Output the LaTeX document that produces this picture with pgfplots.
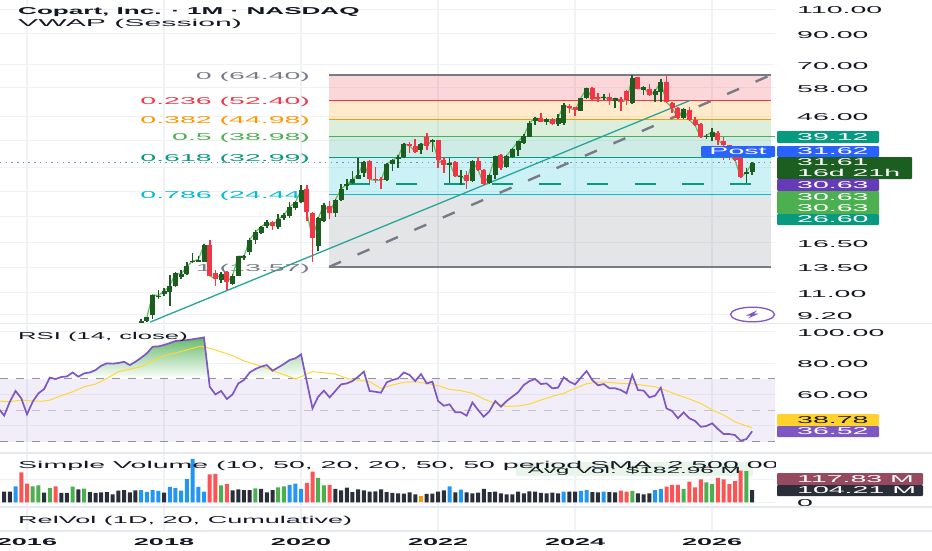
\documentclass[border=0pt]{standalone}
\usepackage{graphicx}
\usepackage{fontspec}
\usepackage{pgfplots}
\usepackage{pgfplotstable}
\pgfplotsset{compat=1.18}
\setmainfont[FakeStretch=2.85]{Liberation Sans}
\newcommand\xs[2]{\scalebox{#1}[1]{#2}}
\definecolor{cgreen}{HTML}{1B5E20}
\definecolor{cred}{HTML}{F23645}
\definecolor{vwap}{HTML}{66BB6A}
\definecolor{teal}{HTML}{089981}
\definecolor{trend}{HTML}{26A69A}
\definecolor{fgray}{HTML}{787B86}
\definecolor{forange}{HTML}{FF9800}
\definecolor{fgreen}{HTML}{4CAF50}
\definecolor{fcyan}{HTML}{00BCD4}
\definecolor{rsip}{HTML}{7E57C2}
\definecolor{rsiy}{HTML}{FDD835}
\definecolor{vdark}{HTML}{2A2E39}
\definecolor{vblue}{HTML}{2196F3}
\definecolor{vred}{HTML}{FF5252}
\definecolor{tdark}{HTML}{131722}
\definecolor{gridc}{HTML}{F0F2F6}
\definecolor{sepc}{HTML}{E6E8EF}
\definecolor{dotc}{HTML}{6F93B8}
\definecolor{postb}{HTML}{2962FF}
\definecolor{purpb}{HTML}{673AB7}
\definecolor{yellb}{HTML}{FFD22E}
\definecolor{maroon}{HTML}{954A5F}
\pgfplotstableread{
m o h l c
20 8.60 8.92 8.60 8.75
21 8.73 9.07 8.71 9.05
22 9.17 10.82 8.92 10.82
23 10.64 11.23 10.50 10.76
24 10.90 11.40 10.76 11.13
25 11.07 12.70 9.90 11.66
26 11.60 12.97 11.54 12.87
27 12.47 13.23 12.30 12.80
28 12.80 14.13 12.70 13.62
29 14.07 15.14 14.00 14.23
30 14.13 14.88 14.07 14.40
31 14.07 16.30 14.07 16.20
34 12.23 13.03 11.90 12.80
36 11.78 12.80 11.72 12.63
37 12.63 14.88 12.57 14.80
38 14.60 15.00 14.40 14.80
39 15.32 17.10 15.00 16.90
40 16.86 18.30 16.30 18.02
41 17.80 18.92 17.70 18.76
42 18.92 19.90 18.67 19.47
44 18.76 20.80 18.50 20.00
45 20.10 21.08 19.90 20.64
46 20.53 22.96 20.10 22.09
47 21.91 23.18 21.60 22.90
48 22.96 26.30 22.84 25.26
51 16.10 20.27 15.46 20.10
52 19.73 22.84 19.57 22.50
54 21.08 23.50 20.27 23.36
55 23.36 26.50 23.16 25.56
56 26.13 27.60 25.40 26.50
57 26.72 29.50 26.50 27.60
58 27.75 32.84 27.75 28.70
59 29.10 31.96 28.20 31.80
63 27.38 31.54 27.23 31.28
64 31.36 32.58 29.50 32.22
65 32.58 33.70 30.30 33.10
66 33.10 37.10 32.84 36.90
69 34.90 37.10 34.00 36.90
71 37.30 38.30 34.60 37.90
74 31.10 32.84 26.72 31.54
76 28.20 29.90 26.30 28.47
78 27.23 32.20 27.10 31.96
81 26.87 28.87 26.65 28.70
82 28.70 33.40 27.60 33.25
84 30.45 33.70 30.30 33.50
85 33.00 35.60 32.84 35.40
86 35.10 37.80 33.50 37.60
87 37.10 39.85 36.90 39.30
88 39.05 44.35 38.90 43.60
89 44.35 45.95 43.00 45.60
91 44.10 45.60 43.00 44.95
93 43.20 46.85 42.40 45.35
94 43.60 51.40 43.00 50.50
97 48.20 53.60 48.10 53.35
98 53.35 58.10 53.00 57.80
101 53.35 55.20 52.60 54.05
103 52.30 53.60 49.30 53.35
106 51.20 64.40 50.90 63.00
108 57.00 59.05 54.80 58.30
110 54.80 57.50 51.90 56.55
111 56.25 62.20 51.90 60.85
115 45.35 49.40 45.10 48.90
119 38.80 40.00 38.40 39.40
120 38.80 41.90 37.80 40.70
126 28.90 30.35 26.87 29.25
127 29.35 31.70 28.55 31.61
}\upcandles
\pgfplotstableread{
m o h l c
32 16.20 16.86 12.57 12.63
33 12.90 13.23 11.66 12.30
35 12.97 13.13 11.23 11.98
43 19.57 19.73 18.30 18.92
49 25.56 26.30 19.73 21.15
50 21.08 21.15 14.07 17.10
53 22.30 23.18 20.00 21.08
60 31.96 32.20 26.87 27.60
61 27.75 30.45 26.72 27.38
62 27.80 28.20 25.55 27.38
67 36.90 37.30 34.20 36.30
68 36.30 38.30 34.20 34.60
70 39.05 40.20 34.90 36.30
72 37.90 38.10 30.30 32.40
73 32.40 33.10 29.10 31.10
75 31.70 31.96 28.20 28.33
77 28.70 29.50 25.55 27.23
79 31.96 33.10 29.50 29.90
80 29.90 30.07 26.30 26.50
83 33.70 33.90 29.67 30.30
90 45.60 47.20 43.90 44.10
92 45.10 45.60 42.80 43.20
95 50.20 50.80 47.20 49.15
96 49.60 49.85 46.30 48.50
99 58.10 58.60 52.60 53.00
100 54.05 55.50 51.90 53.00
102 54.05 55.50 50.50 52.60
104 53.00 54.05 48.10 51.65
105 56.55 57.00 50.50 52.60
107 63.40 63.60 57.30 57.50
109 57.50 59.75 54.50 54.80
112 60.85 63.90 51.20 51.65
113 51.20 51.65 47.20 49.15
114 49.15 49.85 45.10 45.35
116 48.50 49.85 44.35 44.70
117 44.70 45.95 42.40 42.75
118 43.20 43.60 38.50 38.90
121 40.15 40.95 36.60 38.10
122 37.60 38.80 32.40 36.40
123 36.40 36.60 32.40 33.40
124 33.00 33.40 32.10 32.20
125 32.84 33.00 27.95 28.10
}\downcandles
\tikzset{fiblab/.style={anchor=east,inner sep=0pt,text=#1,yshift=-1.5pt}}
\pgfplotsset{
  panel/.style={scale only axis, width=775pt, xmin=-4.73, xmax=131,
    anchor=north west, axis line style={draw=none}, tick style={draw=none},
    xtick={0,24,48,72,96,120}, xticklabels={}, xmajorgrids, ymajorgrids,
    x grid style={draw=gridc,line width=1.4pt}, y grid style={draw=gridc,line width=.8pt},
    yticklabel pos=right, yticklabel style={anchor=west,inner sep=0pt,text=tdark,yshift=-1pt},
    tick label style={font=\normalsize}},
  wick/.style={draw=none, mark=none, forget plot, error bars/.cd, y dir=minus, y explicit, error mark=none,
    error bar style={draw=#1,line width=1.6pt}},
  body/.style={draw=none, mark=none, forget plot, error bars/.cd, y dir=minus, y explicit, error mark=none,
    error bar style={draw=#1,line width=5pt}},
  fibfill/.style={draw=none,fill=#1,fill opacity=.2,forget plot},
  fibline/.style={draw=#1,line width=1.2pt,mark=none,forget plot},
  vb/.style={ybar,bar width=4pt,bar shift=0pt,fill=#1,draw=none,forget plot},
}
\newcommand\badge[6]{% colour,x2,y1,y2,text colour,text
  \fill[#1,rounded corners=1pt] (777,-#3) rectangle (#2,-#4);
  \node[anchor=west,inner sep=0pt,text=#5] at (797,-#3/2-#4/2) {#6};}
\begin{document}
\begin{tikzpicture}[x=1pt,y=1pt]
\path[use as bounding box] (0,0) rectangle (932,-550);
% ---- main panel
\begin{axis}[panel, at={(0pt,0pt)}, height=323pt, ymode=log, ymin=8.61, ymax=118.3,
  ytick={9.2,11,13.5,16.5,20.5,25,30.5,38,46,58,70,90,110},
  yticklabels={9.20,11.00,13.50,16.50,{},{},{},{},46.00,58.00,70.00,90.00,110.00},
  yticklabel style={xshift=22pt}]
\addplot[fibfill=cred] coordinates {(52.9,64.4)(130.3,64.4)(130.3,52.4)(52.9,52.4)} --cycle;
\addplot[fibfill=forange] coordinates {(52.9,52.4)(130.3,52.4)(130.3,44.98)(52.9,44.98)} --cycle;
\addplot[fibfill=fgreen] coordinates {(52.9,44.98)(130.3,44.98)(130.3,38.98)(52.9,38.98)} --cycle;
\addplot[fibfill=teal] coordinates {(52.9,38.98)(130.3,38.98)(130.3,32.99)(52.9,32.99)} --cycle;
\addplot[fibfill=fcyan] coordinates {(52.9,32.99)(130.3,32.99)(130.3,24.44)(52.9,24.44)} --cycle;
\addplot[fibfill=fgray] coordinates {(52.9,24.44)(130.3,24.44)(130.3,13.57)(52.9,13.57)} --cycle;
\addplot[fibline=fgray,line width=1.8pt] coordinates {(52.9,64.4)(130.3,64.4)};
\addplot[fibline=cred] coordinates {(52.9,52.4)(130.3,52.4)};
\addplot[fibline=forange] coordinates {(52.9,44.98)(130.3,44.98)};
\addplot[fibline=fgreen] coordinates {(52.9,38.98)(130.3,38.98)};
\addplot[fibline=teal] coordinates {(52.9,32.99)(130.3,32.99)};
\addplot[fibline=fcyan] coordinates {(52.9,24.44)(130.3,24.44)};
\addplot[fibline=fgray,line width=1.8pt] coordinates {(52.9,13.57)(130.3,13.57)};
\addplot[draw=fgray,line width=2.4pt,dash pattern=on 13pt off 18pt,mark=none,forget plot] coordinates {(52.9,13.57)(130.3,64.4)};
\addplot[draw=trend,line width=1.3pt,mark=none,forget plot] coordinates {(21.55,8.67)(116.15,52.4)};
\addplot[draw=teal,line width=1.2pt,dash pattern=on 21.3pt off 26.4pt,mark=none,forget plot] coordinates {(126.85,26.6)(56,26.6)};
\addplot[draw=fgreen,line width=1.2pt,dash pattern=on 21.3pt off 26.4pt,mark=none,forget plot] coordinates {(131,39.12)(56,39.12)};
\addplot[draw=dotc,line width=1.5pt,dash pattern=on 1.5pt off 4.2pt,mark=none,forget plot] coordinates {(-4.73,31.62)(130.3,31.62)};
\node[fiblab=fgray] at (axis cs:49.6,64.4) {0 (64.40)};
\node[fiblab=cred] at (axis cs:49.6,52.4) {0.236 (52.40)};
\node[fiblab=forange] at (axis cs:49.6,44.98) {0.382 (44.98)};
\node[fiblab=fgreen] at (axis cs:49.6,38.98) {0.5 (38.98)};
\node[fiblab=teal] at (axis cs:49.6,32.99) {0.618 (32.99)};
\node[fiblab=fcyan] at (axis cs:49.6,24.44) {0.786 (24.44)};
\node[fiblab=fgray] at (axis cs:49.6,13.57) {1 (13.57)};
\addplot[draw=vwap,line width=1.2pt,mark=none,forget plot] coordinates {
(21,9.05)(22,10.82)(23,10.76)(24,11.13)(25,11.66)(26,12.87)(27,12.8)(28,13.62)(29,14.23)(30,14.4)(31,16.2)(32,12.63)(33,12.3)(34,12.8)(35,11.98)(36,12.63)(37,14.8)(38,14.8)(39,16.9)(40,18.02)(41,18.76)(42,19.47)(43,18.92)(44,20.0)(45,20.64)(46,22.09)(47,22.9)(48,25.26)(49,21.15)(50,17.1)(51,20.1)(52,22.5)(53,21.08)(54,23.36)(55,25.56)(56,26.5)(57,27.6)(58,28.7)(59,31.8)(60,27.6)(61,27.38)(62,27.38)(63,31.28)(64,32.22)(65,33.1)(66,36.9)(67,36.3)(68,34.6)(69,36.9)(70,36.3)(71,37.9)(72,32.4)(73,31.1)(74,31.54)(75,28.33)(76,28.47)(77,27.23)(78,31.96)(79,29.9)(80,26.5)(81,28.7)(82,33.25)(83,30.3)(84,33.5)(85,35.4)(86,37.6)(87,39.3)(88,43.6)(89,45.6)(90,44.1)(91,44.95)(92,43.2)(93,45.35)(94,50.5)(95,49.15)(96,48.5)(97,53.35)(98,57.8)(99,53.0)(100,53.0)(101,54.05)(102,52.6)(103,53.35)(104,51.65)(105,52.6)(106,63.0)(107,57.5)(108,58.3)(109,54.8)(110,56.55)(111,60.85)(112,51.65)(113,49.15)(114,45.35)(115,48.9)(116,44.7)(117,42.75)(118,38.9)(119,39.4)(120,40.7)(121,38.1)(122,36.4)(123,33.4)(124,32.2)(125,28.1)(126,29.25)(127,31.61)};
\addplot[wick=cgreen] table[x=m,y=h,y error plus expr=0,y error minus expr=\thisrow{h}-\thisrow{l}] {\upcandles};
\addplot[wick=cred] table[x=m,y=h,y error plus expr=0,y error minus expr=\thisrow{h}-\thisrow{l}] {\downcandles};
\addplot[body=cgreen] table[x=m,y=c,y error plus expr=0,y error minus expr=\thisrow{c}-\thisrow{o}] {\upcandles};
\addplot[body=cred] table[x=m,y=o,y error plus expr=0,y error minus expr=\thisrow{o}-\thisrow{c}] {\downcandles};
\end{axis}
% ---- RSI panel
\begin{axis}[panel, at={(0pt,-325pt)}, height=128pt, ymin=22.7, ymax=104.2,
  ytick={40,60,80,100}, yticklabels={{},60.00,80.00,100.00},
  yticklabel style={xshift=22pt}]
\addplot[draw=none,fill=rsip,fill opacity=.1,forget plot] coordinates {(-4.73,70)(131,70)(131,30)(-4.73,30)} --cycle;
\addplot[draw=none,top color=fgreen!85,bottom color=white,forget plot] coordinates {
(3.9,70)(4,70.7)(5,70)(6,71.1)(7,71.5)(8,74)(9,71.3)(10,73.4)(11,74)(12,75.5)(13,78.3)(14,79.8)(15,79.6)(16,80)(17,80.8)(18,78.7)(19,80.8)(20,83.4)(21,86.2)(22,90.4)(23,90.6)(24,91.5)(25,92.7)(26,94)(27,94.4)(28,94.6)(29,95.1)(30,95.7)(31,96.3)(31.84,70)} --cycle;
\addplot[draw=none,top color=fgreen!40,bottom color=white,forget plot] coordinates {
(38.17,70)(39,74)(40,76.2)(41,77.7)(42,78.7)(43,75.1)(44,77.2)(45,79.4)(46,81.9)(47,83)(48,85.5)(48.9,70)} --cycle;
\addplot[draw=fgray!80,line width=1pt,dash pattern=on 8pt off 8pt,mark=none,forget plot] coordinates {(-4.73,70)(131,70)};
\addplot[draw=fgray!45,line width=.8pt,dash pattern=on 8pt off 8pt,mark=none,forget plot] coordinates {(-4.73,50)(131,50)};
\addplot[draw=fgray!80,line width=1pt,dash pattern=on 8pt off 8pt,mark=none,forget plot] coordinates {(-4.73,30)(131,30)};
\addplot[draw=rsiy,line width=1pt,mark=none,forget plot] coordinates {
(-5,55.8)(-3,55.4)(-1,56.4)(1,55.8)(3,55.8)(4,56.4)(6,59.2)(8,61.7)(10,64.9)(12,66.6)(14,70.2)(16,74.5)(18,76)(20,77.7)(22,81.3)(24,84.7)(26,86.4)(28,88.3)(30,90.4)(31,90.4)(33,88.3)(36,84.7)(38,81.3)(40,79.1)(42,76.6)(44,73.8)(46,71.3)(47,69.8)(48,71.3)(50,74.5)(52,73.8)(54,73)(56,70.2)(58,69.2)(60,68.1)(62,63.9)(64,66)(66,67.7)(68,68.1)(70,67)(72,65.6)(74,63.2)(76,62.4)(78,60.7)(80,57.1)(82,54.3)(84,52.4)(86,52.6)(88,53.9)(90,56.4)(92,58.8)(94,60.7)(96,63.9)(98,66.8)(100,67.9)(102,67.7)(104,67)(106,66.8)(108,65.8)(110,64.9)(112,62.4)(114,59.6)(116,57.1)(118,54.3)(120,50.1)(122,46.9)(124,42.6)(126,39.9)(127,38.78)};
\addplot[draw=rsip,line width=1.7pt,mark=none,forget plot] coordinates {
(-5,51.1)(-4,46.5)(-3,55.4)(-2,62.2)(-1,57.5)(0,47.3)(1,55.4)(2,60.7)(3,63.4)(4,70.7)(5,69.8)(6,71.1)(7,71.5)(8,74)(9,71.3)(10,73.4)(11,74)(12,75.5)(13,78.3)(14,79.8)(15,79.6)(16,80)(17,80.8)(18,78.7)(19,80.8)(20,83.4)(21,86.2)(22,90.4)(23,90.6)(24,91.5)(25,92.7)(26,94)(27,94.4)(28,94.6)(29,95.1)(30,95.7)(31,96.3)(32,64.9)(33,60)(34,62.2)(35,57.1)(36,60)(37,67)(38,69.2)(39,74)(40,76.2)(41,77.7)(42,78.7)(43,75.1)(44,77.2)(45,79.4)(46,81.9)(47,83)(48,85.5)(49,68.1)(50,51.1)(51,58.6)(52,62.4)(53,58.1)(54,62.2)(55,66.4)(56,67)(57,68.5)(58,71.3)(59,74.5)(60,62.2)(61,61.7)(62,61.1)(63,67.7)(64,69.2)(65,70.2)(66,74)(67,72.4)(68,68.5)(69,73)(70,67)(71,68.1)(72,55.8)(73,52.8)(74,53.7)(75,48.6)(76,48.6)(77,46.5)(78,54.9)(79,50.1)(80,45.8)(81,49.4)(82,55.8)(83,52.2)(84,55.8)(85,58.6)(86,61.3)(87,66)(88,68.5)(89,69.8)(90,66.6)(91,67)(92,63.9)(93,64.3)(94,70.9)(95,68.1)(96,66.4)(97,70.7)(98,74.9)(99,69.2)(100,65.8)(101,66.6)(102,63.9)(103,63.9)(104,62.8)(105,60.7)(106,72.4)(107,62.8)(108,62.4)(109,58.1)(110,59.2)(111,64.3)(112,51.1)(113,49.4)(114,44.8)(115,48.6)(116,44.8)(117,43.1)(118,39.4)(119,39.9)(120,41.6)(121,38)(122,34.8)(123,34.8)(124,34.1)(125,30.5)(126,31.6)(127,36.52)};
\end{axis}
% ---- volume panel
\fill[fgreen!12] (516,-461.7) rectangle (753,-476);
\begin{axis}[panel, at={(0pt,-453pt)}, height=54pt, ymin=-39.8, ymax=417.6,
  ytick={0,195}, yticklabels={0,{}}, yticklabel style={xshift=22pt}]
\addplot[vb=vdark] coordinates {(-4,90)(-3,90)(3,82)(6,79)(7,79)(9,110)(11,87)(12,79)(13,85)(14,87)(15,68)(16,99)(17,104)(18,85)(19,102)(24,82)(36,102)(37,110)(38,104)(39,104)(41,113)(42,85)(43,104)(54,113)(55,102)(56,124)(57,87)(58,110)(59,102)(60,90)(61,93)(62,110)(63,87)(64,79)(65,76)(66,73)(67,85)(68,68)(70,71)(71,73)(72,90)(73,102)(75,85)(77,85)(78,76)(79,82)(80,113)(81,87)(82,90)(83,76)(84,68)(85,68)(86,90)(87,76)(88,93)(89,90)(90,79)(91,76)(92,82)(93,76)(95,90)(96,90)(99,87)(100,85)(102,87)(103,85)(107,76)(108,68)(109,76)(127,104.21)};
\addplot[vb=vblue] coordinates {(-2,135)(20,104)(21,87)(22,104)(23,96)(25,130)(26,121)(27,99)(28,197)(29,367)(30,130)(31,90)(46,147)(47,158)(48,113)(74,135)(76,107)(94,90)(97,96)(98,104)(101,90)(110,104)(111,113)};
\addplot[vb=vred] coordinates {(-1,254)(0,158)(5,135)(32,237)(33,240)(35,155)(49,164)(50,259)(53,147)(104,99)(105,90)(112,133)(113,147)(114,147)(116,175)(117,127)(118,195)(121,206)(122,195)(123,155)(124,180)(125,268)};
\addplot[vb=fgreen] coordinates {(1,135)(2,144)(4,121)(8,133)(10,116)(34,144)(40,118)(44,127)(45,135)(51,206)(52,144)(106,96)(115,113)(119,169)(120,155)(126,265)};
\addplot[vb=forange] coordinates {(69,56)};
\end{axis}
% ---- RelVol panel with the time labels
\begin{axis}[panel, at={(0pt,-507pt)}, height=24pt, ymin=0, ymax=1, ytick=\empty,
  xticklabels={\xs{.95}{2016},\xs{.95}{2018},\xs{.95}{2020},\xs{.95}{2022},\xs{.95}{2024},\xs{.95}{2026}},
  xticklabel style={font=\bfseries, text=tdark, inner sep=0pt, yshift=-7pt}]
\end{axis}
% ---- panel separators
\foreach \y in {323.5,453,507,531} \draw[sepc,line width=1.2pt] (0,-\y) -- (932,-\y);
% ---- legends
\node[anchor=west,inner sep=0pt,text=tdark,font=\bfseries] at (18,-12) {\xs{.915}{Copart, Inc. · 1M · NASDAQ}};
\node[anchor=west,inner sep=0pt,text=tdark] at (18,-23.5) {\xs{1.06}{VWAP (Session)}};
\node[anchor=west,inner sep=0pt,text=tdark] at (18,-336.5) {\xs{.9}{RSI (14, close)}};
\node[anchor=center,inner sep=0pt,text=tdark,font=\fontsize{9}{9}\selectfont] at (634.5,-471) {\xs{.95}{Avg Vol: \$182.96 M}};
\begin{scope}
\clip (0,-455) rectangle (775,-475);
\node[anchor=west,inner sep=0pt,text=tdark] at (18,-465.5) {Simple Volume (10, 50, 20, 20, 50, 50 period SMA, 2 500 000};
\end{scope}
\node[anchor=west,inner sep=0pt,text=tdark] at (18,-520.5) {\xs{.95}{RelVol (1D, 20, Cumulative)}};
% ---- price labels
\badge{teal}{879}{131}{143}{white}{39.12}
\badge{postb}{879}{146}{157}{white}{31.62}
\fill[postb,rounded corners=1pt] (701,-146) rectangle (775,-157);
\node[inner sep=0pt,text=white] at (738,-151.5) {Post};
\fill[cgreen,rounded corners=1pt] (777,-157) rectangle (912,-179);
\node[anchor=west,inner sep=0pt,text=white] at (797,-162.5) {31.61};
\node[anchor=west,inner sep=0pt,text=white] at (797,-173) {16d 21h};
\badge{purpb}{879}{179}{191}{white}{30.63}
\fill[fgreen,rounded corners=1pt] (777,-191) rectangle (879,-214);
\node[anchor=west,inner sep=0pt,text=white] at (797,-197) {30.63};
\node[anchor=west,inner sep=0pt,text=white] at (797,-208) {30.63};
\badge{teal}{879}{214}{225}{white}{26.60}
\badge{yellb}{879}{414}{426}{tdark}{38.78}
\badge{rsip}{879}{426}{437}{white}{36.52}
\badge{maroon}{923}{473}{485}{white}{117.83 M}
\badge{vdark}{923}{485}{496}{white}{104.21 M}
% ---- lightning mark
\draw[rsip,fill=white,line width=1.3pt] (752.5,-314.5) ellipse (22 and 7.3);
\fill[rsip] (757,-310.5) -- (746,-315.5) -- (751,-315.5) -- (748,-318.5) -- (759,-313.5) -- (754,-313.5) -- cycle;
\end{tikzpicture}
\end{document}
